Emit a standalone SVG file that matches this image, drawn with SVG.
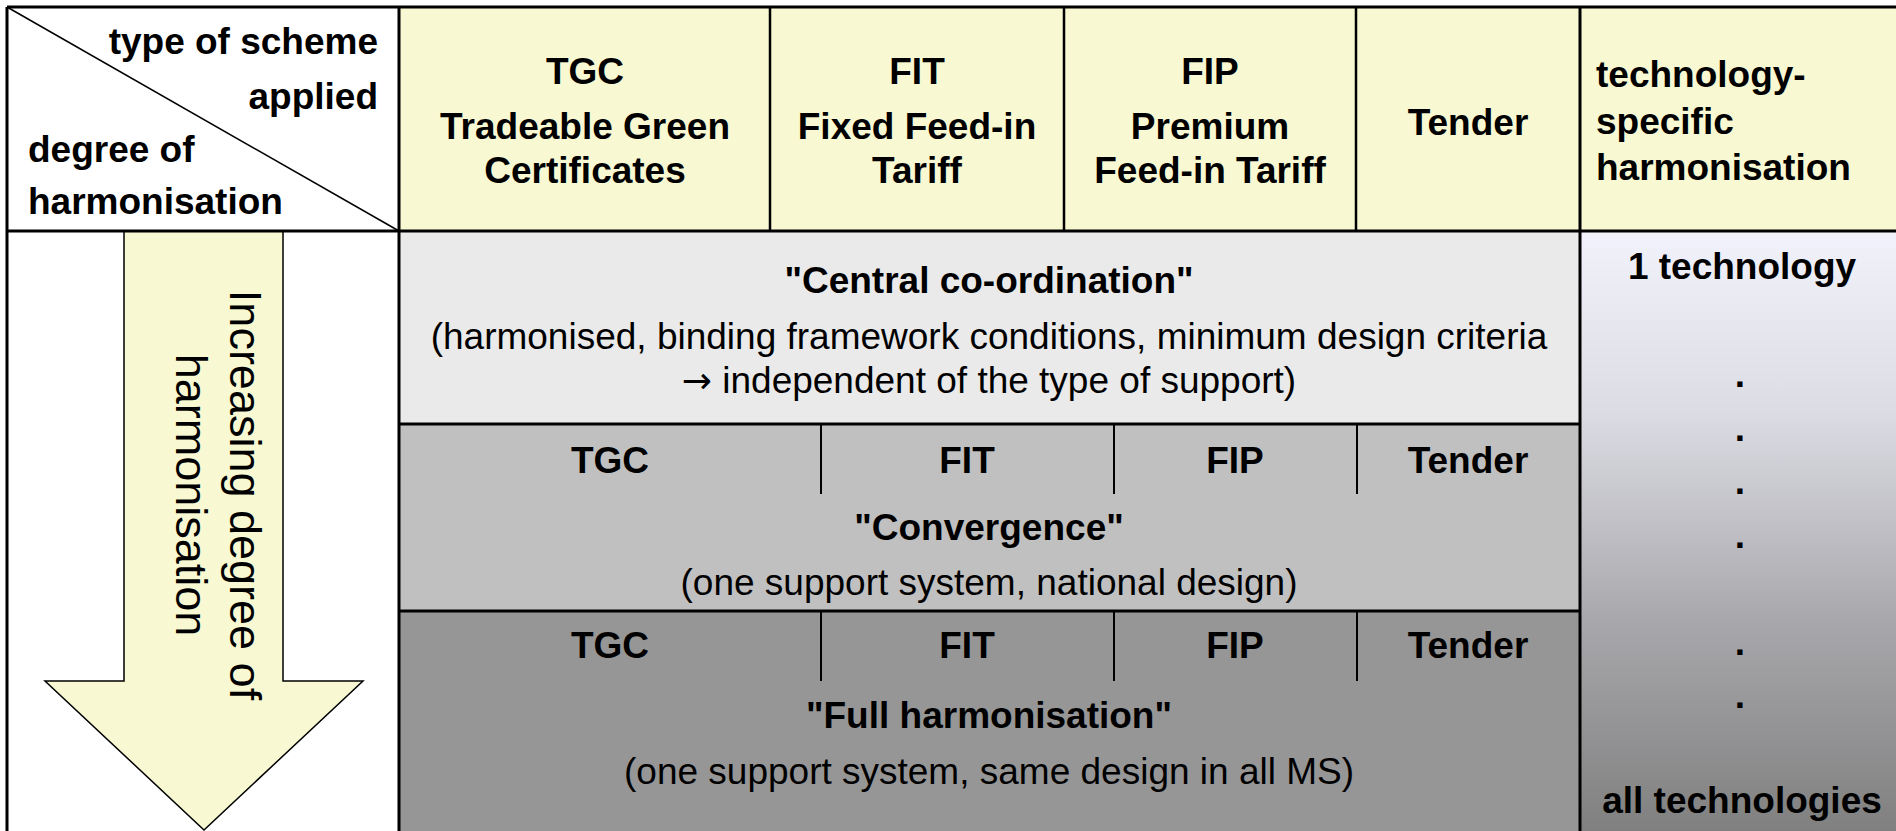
<svg xmlns="http://www.w3.org/2000/svg" width="1896" height="831" viewBox="0 0 1896 831">
<defs>
<linearGradient id="techGrad" x1="0" y1="0" x2="0" y2="1">
<stop offset="0" stop-color="#F2F2FC"/>
<stop offset="0.3" stop-color="#DCDCE4"/>
<stop offset="0.65" stop-color="#A8A8AC"/>
<stop offset="1" stop-color="#808080"/>
</linearGradient>
</defs>
<style>
.b{font-family:"Liberation Sans",Arial,sans-serif;font-weight:bold;font-size:37px;fill:#000}
.r{font-family:"Liberation Sans",Arial,sans-serif;font-size:37px;fill:#000}
.c{text-anchor:middle}
.e{text-anchor:end}
.sym{font-family:"DejaVu Sans",sans-serif;font-size:36px}
.ln{stroke:#000;stroke-width:3;fill:none}
.ln2{stroke:#000;stroke-width:2.5;fill:none}
.sub{stroke:#000;stroke-width:2;fill:none}
.yel{fill:#F8F8D2}
</style>
<rect x="0" y="0" width="1896" height="831" fill="#FFFFFF"/>

<g id="corner-header">
<rect x="7" y="7" width="392" height="224" fill="#FFFFFF"/>
<line x1="7" y1="7" x2="399" y2="231" stroke="#000" stroke-width="1.5"/>
<text class="b e" x="378" y="54">type of scheme</text>
<text class="b e" x="378" y="109">applied</text>
<text class="b" x="28" y="162">degree of</text>
<text class="b" x="28" y="214">harmonisation</text>
</g>

<g id="header-tgc">
<rect class="yel" x="399" y="7" width="371" height="224"/>
<text class="b c" x="585" y="84">TGC</text>
<text class="b c" x="585" y="139">Tradeable Green</text>
<text class="b c" x="585" y="183">Certificates</text>
</g>
<g id="header-fit">
<rect class="yel" x="770" y="7" width="294" height="224"/>
<text class="b c" x="917" y="84">FIT</text>
<text class="b c" x="917" y="139">Fixed Feed-in</text>
<text class="b c" x="917" y="183">Tariff</text>
</g>
<g id="header-fip">
<rect class="yel" x="1064" y="7" width="292" height="224"/>
<text class="b c" x="1210" y="84">FIP</text>
<text class="b c" x="1210" y="139">Premium</text>
<text class="b c" x="1210" y="183">Feed-in Tariff</text>
</g>
<g id="header-tender">
<rect class="yel" x="1356" y="7" width="224" height="224"/>
<text class="b c" x="1468" y="135">Tender</text>
</g>
<g id="header-tech">
<rect class="yel" x="1580" y="7" width="316" height="224"/>
<text class="b" x="1596" y="87">technology-</text>
<text class="b" x="1596" y="134">specific</text>
<text class="b" x="1596" y="180">harmonisation</text>
</g>

<g id="arrow">
<polygon points="124,231 283,231 283,681 363,681 204,830 45,681 124,681" fill="#F8F8D2" stroke="#000" stroke-width="1.5"/>
<g transform="translate(203,495) rotate(90)">
<text class="r c" style="font-size:45px" x="0" y="-27">Increasing degree of</text>
<text class="r c" style="font-size:45px" x="0" y="27">harmonisation</text>
</g>
</g>

<g id="row-central">
<rect x="399" y="231" width="1181" height="193" fill="#EAEAEA"/>
<text class="b c" x="989" y="293">"Central co-ordination"</text>
<text class="r c" x="989" y="349">(harmonised, binding framework conditions, minimum design criteria</text>
<text class="r c" x="989" y="393"><tspan class="sym">→</tspan> independent of the type of support)</text>
</g>

<g id="row-convergence">
<rect x="399" y="424" width="1181" height="187" fill="#C0C0C0"/>
<text class="b c" x="610" y="473">TGC</text>
<text class="b c" x="967" y="473">FIT</text>
<text class="b c" x="1235" y="473">FIP</text>
<text class="b c" x="1468" y="473">Tender</text>
<text class="b c" x="989" y="540">"Convergence"</text>
<text class="r c" x="989" y="595">(one support system, national design)</text>
</g>

<g id="row-full">
<rect x="399" y="611" width="1181" height="220" fill="#969696"/>
<text class="b c" x="610" y="658">TGC</text>
<text class="b c" x="967" y="658">FIT</text>
<text class="b c" x="1235" y="658">FIP</text>
<text class="b c" x="1468" y="658">Tender</text>
<text class="b c" x="989" y="728">"Full harmonisation"</text>
<text class="r c" x="989" y="784">(one support system, same design in all MS)</text>
</g>

<g id="tech-scale">
<rect x="1580" y="231" width="316" height="600" fill="url(#techGrad)"/>
<text class="b c" x="1742" y="279">1 technology</text>
<text class="b c" x="1740" y="387">.</text>
<text class="b c" x="1740" y="441">.</text>
<text class="b c" x="1740" y="494">.</text>
<text class="b c" x="1740" y="548">.</text>
<text class="b c" x="1740" y="655">.</text>
<text class="b c" x="1740" y="708">.</text>
<text class="b c" x="1742" y="813">all technologies</text>
</g>

<g id="grid-lines">
<line class="ln" x1="7" y1="7" x2="1896" y2="7"/>
<line class="ln" x1="7" y1="7" x2="7" y2="831"/>
<line class="ln" x1="7" y1="231" x2="1896" y2="231"/>
<line class="ln" x1="399" y1="7" x2="399" y2="831"/>
<line class="ln2" x1="770" y1="7" x2="770" y2="231"/>
<line class="ln2" x1="1064" y1="7" x2="1064" y2="231"/>
<line class="ln2" x1="1356" y1="7" x2="1356" y2="231"/>
<line class="ln" x1="1580" y1="7" x2="1580" y2="831"/>
<line class="ln" x1="399" y1="424" x2="1580" y2="424"/>
<line class="ln" x1="399" y1="611" x2="1580" y2="611"/>
<line class="sub" x1="821" y1="424" x2="821" y2="494"/>
<line class="sub" x1="1114" y1="424" x2="1114" y2="494"/>
<line class="sub" x1="1357" y1="424" x2="1357" y2="494"/>
<line class="sub" x1="821" y1="611" x2="821" y2="681"/>
<line class="sub" x1="1114" y1="611" x2="1114" y2="681"/>
<line class="sub" x1="1357" y1="611" x2="1357" y2="681"/>
</g>
</svg>
